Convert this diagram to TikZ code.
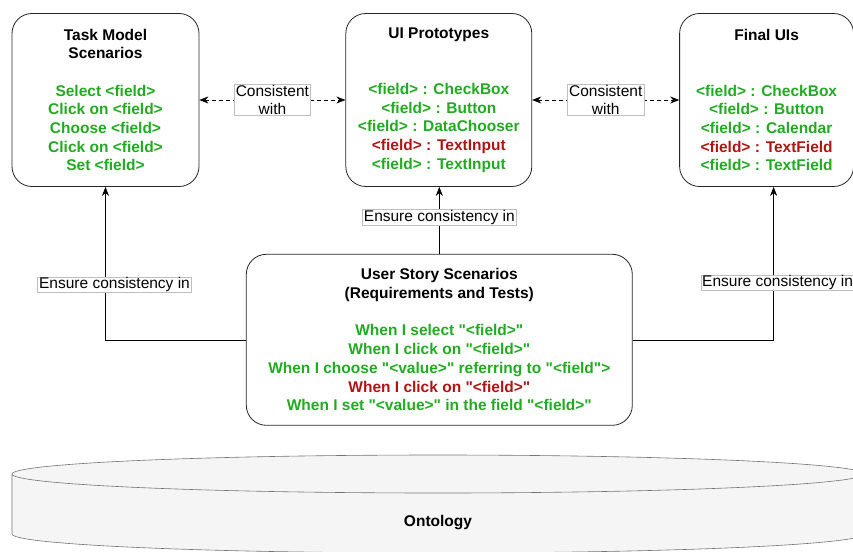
\documentclass[tikz,border=0pt]{standalone}
\usepackage{fontspec}
\setmainfont{Liberation Sans}[Ligatures=TeXOff]
\usetikzlibrary{arrows.meta,positioning}

\definecolor{okgreen}{HTML}{22AA22}
\definecolor{badred}{HTML}{B01515}
\newcommand{\okline}[1]{\textcolor{okgreen}{#1}}
\newcommand{\badline}[1]{\textcolor{badred}{#1}}

\begin{document}
\begin{tikzpicture}[
    x = 1pt, y = -1pt, % pixel grid, y going down
    > = {Stealth[length=9pt,width=7pt]}, % arrow head style
    node distance = 146pt, % gap between boxes
    semithick, % line style
    font = \fontsize{15.5}{18.7}\selectfont
    ]

    \tikzset{box/.style={
    draw = black!85,
    thick,
    fill = white,
    rounded corners = 20pt,
    align = center,
    inner sep = 0pt,
    minimum height = 173pt,
    font = \fontsize{15.5}{18.7}\selectfont\bfseries
    }}
    \tikzset{tag/.style={
    draw = black!25,
    solid,
    thin,
    fill = white,
    align = center,
    inner xsep = 1.5pt,
    inner ysep = 0.5pt
    }}

    \useasboundingbox (0,0) rectangle (853,551);
    \clip (0,0) rectangle (853,551);

    % ontology cylinder
    \draw[draw = black!55, fill = black!4] (12,474) -- (12,534)
        arc[start angle=180, end angle=360, x radius=426pt, y radius=19pt] -- (864,474);
    \draw[draw = black!55, fill = black!4] (438,474) ellipse [x radius=426pt, y radius=19pt];
    \node[font = \fontsize{15.5}{18.7}\selectfont\bfseries] (onto) at (438,523) {Ontology};

    \node[box, minimum width = 187pt] (tm) at (105.5,100)
        {Task Model\\Scenarios\\[18.7pt]
         \okline{Select <field>}\\\okline{Click on <field>}\\\okline{Choose <field>}\\
         \okline{Click on <field>}\\\okline{Set <field>}};
    \node[box, minimum width = 186pt] (ui) [right=146pt of tm]
        {UI Prototypes\\[37.4pt]
         \okline{<field> : CheckBox}\\\okline{<field> : Button}\\\okline{<field> : DataChooser}\\
         \badline{<field> : TextInput}\\\okline{<field> : TextInput}};
    \node[box, minimum width = 174pt] (fu) [right=147pt of ui]
        {Final UIs\\[37.4pt]
         \okline{<field> : CheckBox}\\\okline{<field> : Button}\\\okline{<field> : Calendar}\\
         \badline{<field> : TextField}\\\okline{<field> : TextField}};
    \node[box, minimum width = 386pt, minimum height = 171pt] (us) [below=67pt of ui, xshift=0.5pt]
        {User Story Scenarios\\(Requirements and Tests)\\[18.7pt]
         \okline{When I select "<field>"}\\\okline{When I click on "<field>"}\\
         \okline{When I choose "<value>" referring to "<field">}\\
         \badline{When I click on "<field>"}\\\okline{When I set "<value>" in the field "<field>"}};

    \path[<->, dashed, dash pattern=on 4pt off 3pt] (tm) edge node[tag]{Consistent\\with} (ui);
    \path[<->, dashed, dash pattern=on 4pt off 3pt] (ui) edge node[tag]{Consistent\\with} (fu);

    \draw[->] (us.west) -| (tm.south) node[tag, pos=0.68, xshift=9pt]{Ensure consistency in};
    \draw[->] (us.north) -- (us.north |- ui.south) node[tag, pos=0.55]{Ensure consistency in};
    \draw[->] (us.east) -| ([xshift=7pt]fu.south) node[tag, pos=0.6875, xshift=4pt]{Ensure consistency in};
\end{tikzpicture}
\end{document}
